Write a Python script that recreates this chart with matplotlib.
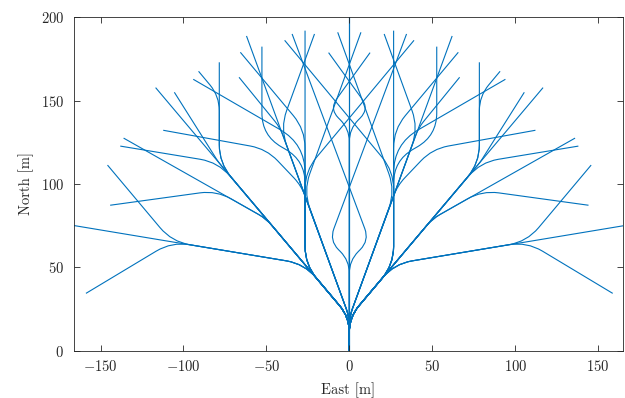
import numpy as np
import matplotlib
matplotlib.use("Agg")
import matplotlib.pyplot as plt
from matplotlib.path import Path
from matplotlib.patches import PathPatch

plt.rcParams["font.family"] = "serif"
plt.rcParams["font.serif"] = ["cmr10"]
plt.rcParams["mathtext.fontset"] = "cm"
plt.rcParams["axes.formatter.use_mathtext"] = True

# corner points (east, north) of each branch of the search tree, east half only;
# the tree is symmetric about the north axis
branches = [
    [(0, 0), (0, 215)],
    [(0, 0), (0, 20), (62, 188.8)],
    [(0, 0), (0, 20), (116.8, 157.8)],
    [(0, 0), (0, 20), (27, 52), (175, 76.5)],
    [(0, 0), (0, 20), (27, 52), (107, 65.3), (158.8, 34.3)],
    [(0, 0), (0, 20), (27, 52), (107, 65.3), (145.8, 111.3)],
    [(0, 0), (0, 20), (26.7, 51.5), (26.7, 192)],
    [(0, 0), (0, 54), (12, 66), (-34.5, 190)],
    [(0, 0), (0, 133), (12, 145), (-12.5, 178.8)],
    [(0, 0), (0, 20), (27.6, 95.8), (-7, 191)],
    [(0, 0), (0, 20), (78.4, 112.5), (78.4, 173)],
    [(0, 0), (0, 20), (41.6, 133.6), (21, 190)],
    [(0, 0), (0, 20), (41.6, 133.6), (66.5, 164)],
    [(0, 0), (0, 20), (26.7, 51.5), (26.7, 114), (52.7, 129), (52.7, 182.4)],
    [(0, 0), (0, 20), (26.7, 51.5), (26.7, 123.9), (94.1, 162.8)],
    [(0, 0), (0, 20), (26.7, 51.5), (26.7, 107.7), (-39, 186.2)],
    [(0, 0), (0, 20), (26.7, 51.5), (26.7, 132.6), (65.7, 179)],
    [(0, 0), (0, 20), (50, 79), (136.1, 127.5)],
    [(0, 0), (0, 20), (79, 113), (138.1, 122.7)],
    [(0, 0), (0, 20), (29, 99), (50, 121), (112.2, 132.2)],
    [(0, 0), (0, 20), (79, 113.2), (105.5, 155)],
    [(0, 0), (0, 20), (78.4, 112.5), (78.4, 152.7), (90.9, 167.6)],
    [(0, 0), (0, 20), (50, 79), (80, 96), (144.2, 87.2)],
]

TURN_RADIUS = 30.0
LINE_COLOR = "#0072BD"


def rounded_path(pts, radius):
    # polyline through the corner points, each corner replaced by a quadratic bezier
    pts = np.asarray(pts, dtype=float)
    verts = [pts[0]]
    codes = [Path.MOVETO]
    for i in range(1, len(pts) - 1):
        a, c, b = pts[i - 1], pts[i], pts[i + 1]
        u = (c - a) / np.linalg.norm(c - a)
        v = (b - c) / np.linalg.norm(b - c)
        ang = np.arccos(np.clip(np.dot(u, v), -1, 1))
        d = radius * np.tan(ang / 2)
        d = min(d, 0.45 * np.linalg.norm(c - a), 0.45 * np.linalg.norm(b - c))
        verts += [c - u * d, c, c + v * d]
        codes += [Path.LINETO, Path.CURVE3, Path.CURVE3]
    verts.append(pts[-1])
    codes.append(Path.LINETO)
    return Path(verts, codes)


fig = plt.figure(figsize=(6.25, 3.98), dpi=100)
ax = fig.add_axes([0.1184, 0.1193, 0.8784, 0.8372])

for br in branches:
    for sign in (1, -1):
        pts = [(sign * x, y) for x, y in br]
        ax.add_patch(PathPatch(rounded_path(pts, TURN_RADIUS), fill=False,
                               edgecolor=LINE_COLOR, lw=0.8))

ax.set_xlim(-166, 165)
ax.set_ylim(0, 200)
ax.set_xticks([-150, -100, -50, 0, 50, 100, 150])
ax.set_yticks([0, 50, 100, 150, 200])
ax.tick_params(direction="in", top=True, right=True, length=4, width=0.6,
               colors="#262626", labelsize=10.5)
ax.tick_params(axis="y", pad=7)
ax.tick_params(axis="x", pad=6)
for s in ax.spines.values():
    s.set_color("#262626")
    s.set_linewidth(0.6)
ax.set_xlabel("East [m]", fontsize=10.5, color="#262626", labelpad=6)
ax.set_ylabel("North [m]", fontsize=10.5, color="#262626", labelpad=5)

fig.savefig("out.png", dpi=100)
